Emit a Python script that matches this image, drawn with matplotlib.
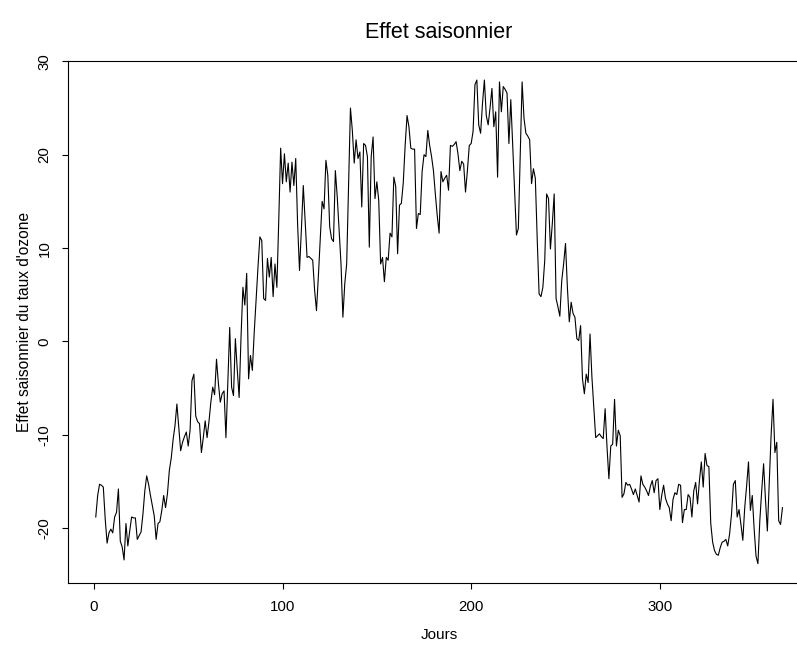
import numpy as np
import matplotlib
matplotlib.use("Agg")
import matplotlib.pyplot as plt

# effet saisonnier journalier (jours 1..365)
effet = [
    -18.8, -16.5, -15.3, -15.4, -15.6, -19.0, -21.6, -20.5, -20.1, -20.5,   # 1-10
    -18.8, -18.3, -15.8, -21.4, -22.0, -23.4, -19.5, -21.9, -20.3, -18.8,   # 11-20
    -18.9, -18.9, -21.2, -20.8, -20.4, -18.5, -16.0, -14.4, -15.3, -16.5,   # 21-30
    -17.6, -18.7, -21.2, -19.5, -19.3, -18.1, -16.5, -17.8, -16.3, -13.8,   # 31-40
    -12.5, -10.5, -9.0, -6.7, -9.2, -11.7, -10.8, -10.2, -9.7, -11.2,       # 41-50
    -9.5, -4.2, -3.5, -8.0, -8.6, -8.8, -11.9, -10.3, -8.5, -10.3,          # 51-60
    -8.6, -6.5, -4.9, -5.7, -1.9, -4.5, -6.5, -5.6, -5.3, -10.3,            # 61-70
    -4.5, 1.5, -4.9, -5.8, 0.3, -3.0, -6.0, 0.5, 5.8, 3.9,                  # 71-80
    7.3, -4.0, -1.5, -3.1, 1.0, 4.5, 8.0, 11.2, 10.8, 4.6,                  # 81-90
    4.4, 8.9, 6.9, 9.0, 4.8, 8.3, 5.8, 13.0, 20.7, 16.9,                    # 91-100
    20.1, 17.1, 19.1, 16.0, 19.2, 16.7, 19.6, 12.5, 7.6, 12.0,              # 101-110
    16.7, 12.8, 9.0, 9.1, 8.9, 8.7, 5.5, 3.3, 7.0, 11.0,                    # 111-120
    15.0, 14.2, 19.4, 17.8, 12.3, 11.0, 10.7, 18.3, 15.5, 11.9,             # 121-130
    8.3, 2.6, 6.2, 8.3, 16.5, 25.0, 22.6, 19.1, 21.6, 19.6,                 # 131-140
    20.3, 14.4, 21.2, 21.0, 19.8, 10.1, 19.8, 21.9, 15.3, 17.1,             # 141-150
    15.1, 8.3, 9.0, 6.4, 9.0, 8.7, 11.6, 11.2, 17.6, 16.6,                  # 151-160
    9.4, 14.6, 14.8, 17.0, 21.0, 24.2, 23.0, 20.7, 20.6, 20.6,              # 161-170
    12.1, 13.7, 13.6, 18.2, 20.0, 19.8, 22.6, 21.0, 19.8, 18.3,             # 171-180
    15.8, 13.5, 11.6, 18.2, 17.1, 17.5, 17.8, 16.2, 21.0, 20.9,             # 181-190
    21.1, 21.4, 20.1, 18.3, 19.3, 19.0, 16.0, 18.3, 21.0, 21.2,             # 191-200
    22.5, 27.5, 28.0, 23.2, 22.3, 25.5, 28.0, 24.2, 23.2, 25.0,             # 201-210
    27.1, 23.0, 24.6, 17.6, 27.8, 24.6, 27.3, 27.0, 26.6, 21.2,             # 211-220
    25.9, 21.0, 16.2, 11.4, 12.1, 20.0, 27.8, 23.9, 22.3, 22.0,             # 221-230
    21.6, 16.9, 18.5, 17.5, 11.0, 5.1, 4.8, 5.8, 8.7, 15.8,                 # 231-240
    15.3, 9.9, 12.6, 15.8, 4.6, 3.7, 2.7, 6.5, 8.3, 10.5,                   # 241-250
    5.8, 2.1, 4.2, 3.0, 2.6, 0.3, 0.1, 1.7, -4.0, -5.6,                     # 251-260
    -3.5, -4.4, 0.8, -3.8, -7.0, -10.3, -10.1, -9.9, -10.2, -10.4,          # 261-270
    -7.2, -11.3, -14.7, -11.2, -11.0, -6.2, -11.2, -9.5, -10.1, -16.7,      # 271-280
    -16.3, -15.1, -15.4, -15.3, -15.8, -16.4, -15.8, -16.5, -17.2, -14.4,   # 281-290
    -15.3, -15.6, -16.0, -16.5, -15.5, -14.9, -16.2, -14.9, -14.7, -18.0,   # 291-300
    -16.5, -15.4, -16.8, -17.4, -17.8, -19.2, -16.9, -16.2, -16.4, -15.3,   # 301-310
    -15.4, -19.4, -18.0, -18.0, -16.4, -16.7, -18.8, -16.0, -15.1, -17.4,   # 311-320
    -14.9, -12.9, -15.6, -12.0, -13.3, -13.4, -19.5, -21.5, -22.4, -22.8,   # 321-330
    -22.9, -22.1, -21.5, -21.4, -21.2, -21.9, -20.6, -18.5, -15.3, -14.9,   # 331-340
    -18.8, -18.0, -19.6, -21.3, -17.8, -15.5, -12.9, -18.1, -16.5, -20.1,   # 341-350
    -23.0, -23.8, -19.2, -16.0, -13.1, -16.9, -20.3, -15.0, -10.0, -6.2,    # 351-360
    -11.9, -10.8, -19.2, -19.6, -17.8,                                      # 361-365
]
jours = np.arange(1, len(effet) + 1)

x_ticks = [0, 100, 200, 300]
y_ticks = [-20, -10, 0, 10, 20, 30]

plt.rcParams['font.family'] = ['Liberation Sans', 'DejaVu Sans']

fig = plt.figure(figsize=(7.97, 6.45), dpi=100)
# comme dans R, la boite du graphique depasse un peu a droite
ax = fig.add_axes([0.0857, 0.0961, 0.9305, 0.8098])
ax.plot(jours, effet, color='black', linewidth=0.8)

# marge de 4 % comme R
xr = jours.max() - jours.min()
yr = max(effet) - min(effet)
ax.set_xlim(jours.min() - 0.04 * xr, jours.max() + 0.04 * xr)
ax.set_ylim(min(effet) - 0.04 * yr, max(effet) + 0.04 * yr)

ax.set_xticks(x_ticks)
ax.set_yticks(y_ticks)
ax.set_yticklabels([str(v) for v in y_ticks], rotation=90, va='center')
ax.tick_params(direction='out', length=4, width=0.8, labelsize=10.8, pad=8)
for s in ax.spines.values():
    s.set_linewidth(0.8)

ax.set_xlabel('Jours', fontsize=11, labelpad=10)
ax.set_ylabel("Effet saisonnier du taux d'ozone", fontsize=11.2, labelpad=4)
ax.set_title('Effet saisonnier', fontsize=15.5, pad=16)

fig.savefig('out.png', dpi=100)
